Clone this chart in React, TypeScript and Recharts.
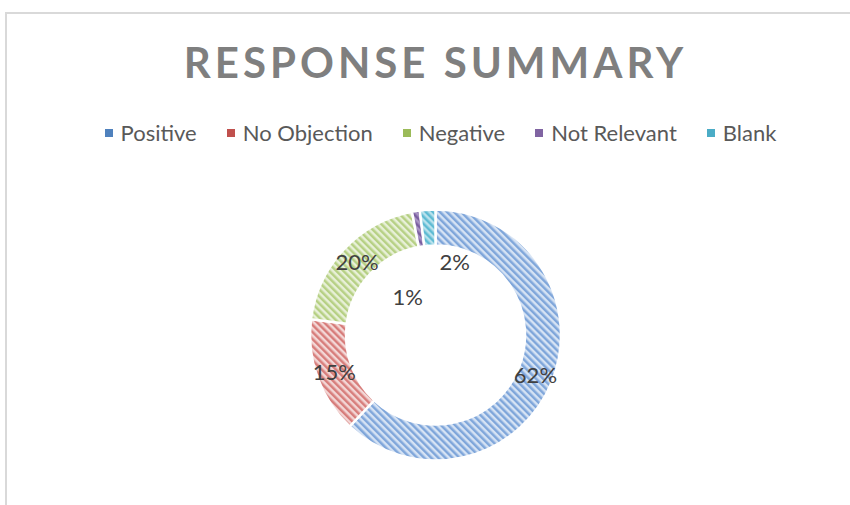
import React from 'react';
import { PieChart, Pie, Cell } from 'recharts';

const categories = ['Positive', 'No Objection', 'Negative', 'Not Relevant', 'Blank'];
const shares = [62, 15, 20, 1, 2];
const valueLabels = ['62%', '15%', '20%', '1%', '2%'];

const baseColors = ['#4F81BD', '#C0504D', '#9BBB59', '#8064A2', '#4BACC6'];
const stripeColors = ['#7fa6da', '#d77d7b', '#b6d084', '#7a5fa0', '#5fbbd3'];
const stripeBg = ['#d6e3f4', '#f3d7d6', '#e8f0d8', '#a893c4', '#b8e1ec'];
const labelShift = [
  { dx: 0, dy: 0 },
  { dx: 0, dy: 0 },
  { dx: 0, dy: 0 },
  { dx: -11, dy: 68 },
  { dx: 26, dy: 34 },
];

const data = categories.map((name, i) => ({ name, value: shares[i] }));

const RAD = Math.PI / 180;
const FONT = 'Lato, "Open Sans", sans-serif';

const renderLabel = (props: any) => {
  const { cx, cy, midAngle, innerRadius, outerRadius, index } = props;
  const r = (innerRadius + outerRadius) / 2;
  const x = cx + r * Math.cos(-midAngle * RAD) + labelShift[index].dx;
  const y = cy + r * Math.sin(-midAngle * RAD) + labelShift[index].dy;
  return (
    <text
      x={x}
      y={y}
      textAnchor="middle"
      dominantBaseline="central"
      fill="#404040"
      fontSize={22}
      fontFamily={FONT}
    >
      {valueLabels[index]}
    </text>
  );
};

export default function App() {
  return (
    <div style={{ position: 'absolute', left: 0, top: 0, width: 850, height: 505, background: '#fff', overflow: 'hidden' }}>
      <div
        style={{
          position: 'absolute',
          left: 5,
          top: 12,
          width: 900,
          height: 600,
          border: '2px solid #d9d9d9',
          boxSizing: 'border-box',
        }}
      />
      <div
        style={{
          position: 'absolute',
          left: 0,
          top: 36,
          width: 871,
          textAlign: 'center',
          fontFamily: FONT,
          fontWeight: 700,
          fontSize: 42,
          letterSpacing: 4,
          color: '#7f7f7f',
          lineHeight: '52px',
          whiteSpace: 'nowrap',
        }}
      >
        RESPONSE SUMMARY
      </div>
      <div
        style={{
          position: 'absolute',
          left: 0,
          top: 118,
          width: 881,
          display: 'flex',
          justifyContent: 'center',
          fontFamily: FONT,
          fontSize: 22,
          color: '#595959',
          lineHeight: '30px',
          whiteSpace: 'nowrap',
        }}
      >
        {categories.map((c, i) => (
          <div key={c} style={{ display: 'flex', alignItems: 'center', marginRight: i < categories.length - 1 ? 30 : 0 }}>
            <span style={{ display: 'inline-block', width: 8, height: 8, background: baseColors[i], marginRight: 8 }} />
            <span>{c}</span>
          </div>
        ))}
      </div>
      <div style={{ position: 'absolute', left: 0, top: 0 }}>
        <PieChart width={850} height={505} margin={{ top: 0, right: 0, bottom: 0, left: 0 }}>
          <defs>
            {categories.map((c, i) => (
              <pattern
                key={c}
                id={`stripe-${i}`}
                patternUnits="userSpaceOnUse"
                width={5}
                height={5}
                patternTransform="rotate(-45)"
              >
                <rect x={0} y={0} width={5} height={5} fill={stripeBg[i]} />
                <rect x={0} y={0} width={2.5} height={5} fill={stripeColors[i]} />
              </pattern>
            ))}
          </defs>
          <Pie
            data={data}
            dataKey="value"
            nameKey="name"
            cx={435.5}
            cy={335}
            innerRadius={89.5}
            outerRadius={125.5}
            startAngle={90}
            endAngle={-270}
            stroke="#ffffff"
            strokeWidth={2.5}
            label={renderLabel}
            labelLine={false}
            isAnimationActive={false}
          >
            {data.map((d, i) => (
              <Cell key={d.name} fill={`url(#stripe-${i})`} />
            ))}
          </Pie>
        </PieChart>
      </div>
    </div>
  );
}
